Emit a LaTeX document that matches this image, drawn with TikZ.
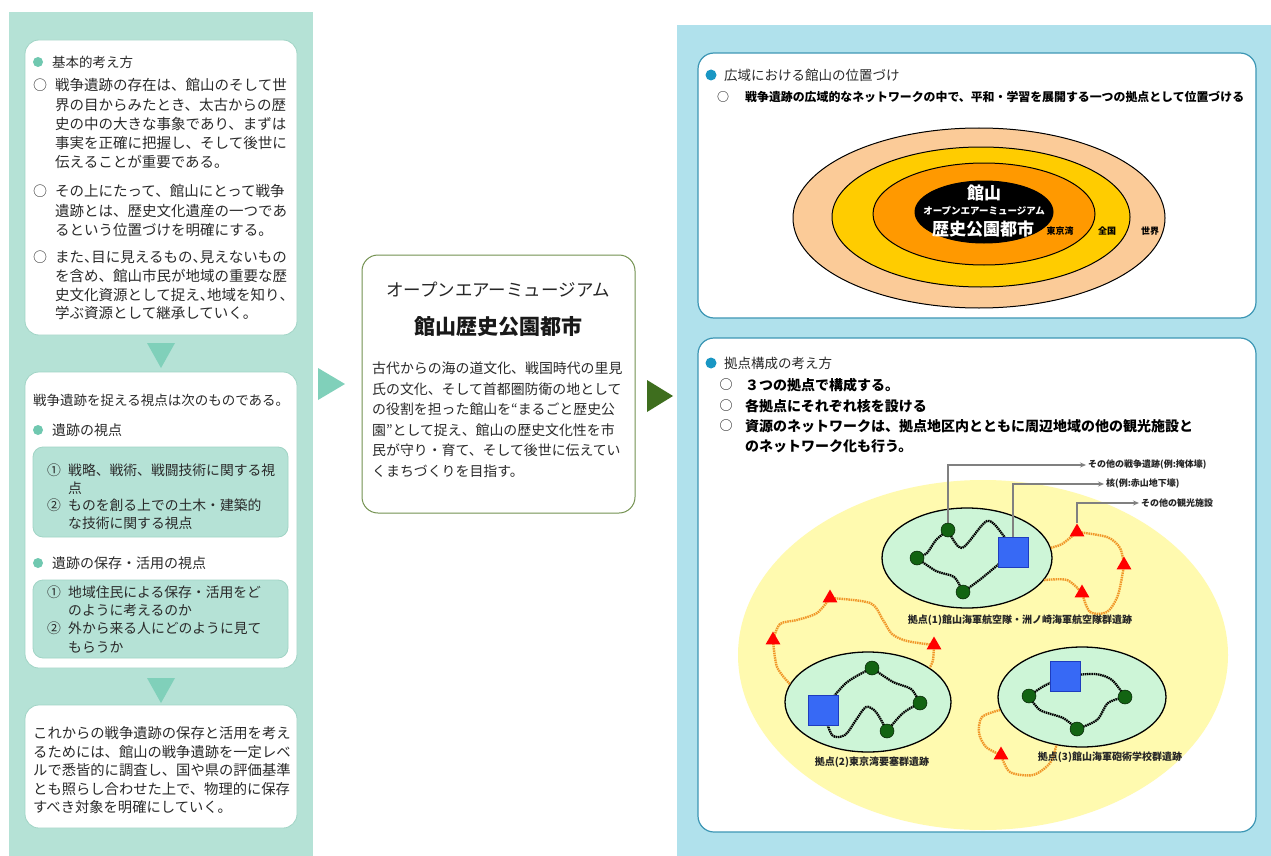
\documentclass[tikz,border=0pt]{standalone}
\usepackage{fontspec}
\setmainfont{Noto Sans CJK JP}
\usetikzlibrary{shapes.geometric,arrows.meta}
\pgfdeclarelayer{l0}\pgfdeclarelayer{l1}\pgfdeclarelayer{l2}
\pgfsetlayers{l0,l1,l2,main}
\newcommand\fs[2]{\fontsize{#1}{#2}\selectfont}
\newcommand\hc{\makebox[0.5em][l]{、}}
\definecolor{tealbg}{RGB}{181,226,214}
\definecolor{tealdk}{RGB}{112,200,176}
\definecolor{tealtri}{RGB}{128,208,186}
\definecolor{tealbd}{RGB}{160,212,197}
\definecolor{txt}{RGB}{42,42,42}
\definecolor{olive}{RGB}{115,145,80}
\definecolor{dkgreen}{RGB}{62,110,30}
\definecolor{bluebg}{RGB}{176,225,236}
\definecolor{bluebd}{RGB}{60,150,180}
\definecolor{bluedot}{RGB}{25,150,195}
\definecolor{peach}{RGB}{251,203,152}
\definecolor{gold}{RGB}{255,204,0}
\definecolor{orng}{RGB}{255,153,0}
\definecolor{paley}{RGB}{255,250,175}
\definecolor{mint}{RGB}{205,245,215}
\definecolor{sqblue}{RGB}{55,105,245}
\definecolor{sqedge}{RGB}{30,60,190}
\definecolor{dotg}{RGB}{18,100,18}
\definecolor{orline}{RGB}{240,150,40}
\definecolor{grayln}{RGB}{128,128,128}
\begin{document}
\begin{tikzpicture}[x=1pt,y=-1pt,
  wbox/.style={rectangle, rounded corners=14pt, fill=white, draw=tealbd, line width=0.8pt, inner sep=0},
  ibox/.style={rectangle, rounded corners=10pt, fill=tealbg, draw=tealbd, line width=0.8pt, inner sep=0},
  mbox/.style={rectangle, rounded corners=16pt, fill=white, draw=olive, line width=1pt, inner sep=0},
  rbox/.style={rectangle, rounded corners=16pt, fill=white, draw=bluebd, line width=1.2pt, inner sep=0},
  para/.style={anchor=north west, align=left, inner sep=0, text=txt},
  line/.style={anchor=west, inner sep=0, text=txt},
  ctr/.style={anchor=center, inner sep=0},
  tdot/.style={circle, fill=tealdk, minimum size=10pt, inner sep=0},
  bdot/.style={circle, fill=bluedot, minimum size=11pt, inner sep=0},
  zone/.style={ellipse, fill=mint, draw=black, line width=1.3pt, inner sep=0},
  gdot/.style={circle, fill=dotg, draw=black!70!dotg, line width=0.5pt, minimum size=14pt, inner sep=0},
  sq/.style={rectangle, fill=sqblue, draw=sqedge, line width=0.8pt, minimum size=30pt, inner sep=0},
  rtri/.style={regular polygon, regular polygon sides=3, minimum size=17pt, fill=red, inner sep=0},
  wave/.style={line width=2.3pt, black, dash pattern=on 1.5pt off 0.7pt},
  oline/.style={line width=2.4pt, orline, dash pattern=on 1.5pt off 0.8pt},
  gl/.style={draw=grayln, line width=1.6pt, -{Stealth[length=6pt,width=5pt]}},
  lab/.style={anchor=west, inner sep=2pt, text=black!85, font=\fs{9}{11}\bfseries},
  lab2/.style={anchor=center, inner sep=0, text=black!85, font=\fs{10}{12}\bfseries}
]
\useasboundingbox (0,0) rectangle (1271,856);
\begin{pgfonlayer}{l0}
\fill[white] (0,0) rectangle (1271,856);
% left panel
\fill[tealbg] (9,12) rectangle (313,856);
\node[wbox, minimum width=272pt, minimum height=295pt] (b1) at (161,187.5) {};
\fill[tealtri] (147,343) -- (175,343) -- (161,368) -- cycle;
\node[wbox, minimum width=272pt, minimum height=296pt] (b2) at (161,520) {};
\node[ibox, minimum width=255pt, minimum height=90pt] (ib1) at (160.5,492) {};
\node[ibox, minimum width=255pt, minimum height=78pt] (ib2) at (160.5,619) {};
\fill[tealtri] (147,678) -- (175,678) -- (161,703) -- cycle;
\node[wbox, minimum width=272pt, minimum height=123pt] (b3) at (161,766.5) {};
% middle
\fill[tealtri] (318,368) -- (318,400) -- (345,384) -- cycle;
\node[mbox, minimum width=273pt, minimum height=258pt] (mb) at (498.5,384) {};
\fill[dkgreen] (647,380) -- (647,412) -- (673,396) -- cycle;
% right panel
\fill[bluebg] (677,25) rectangle (1271,856);
\node[rbox, minimum width=558pt, minimum height=265pt] (rt) at (977,185.5) {};
\node[rbox, minimum width=558pt, minimum height=494pt] (rb) at (977,585) {};
% concentric ellipses
\draw[fill=peach, line width=1pt] (979,218) ellipse [x radius=186pt, y radius=90pt];
\draw[fill=gold, line width=1pt] (981,217) ellipse [x radius=149pt, y radius=70pt];
\draw[fill=orng, line width=1pt] (984,214) ellipse [x radius=111pt, y radius=51pt];
\draw[fill=black, line width=1pt] (984,212) ellipse [x radius=69pt, y radius=31pt];
\end{pgfonlayer}

% ---------- left panel texts
\node[tdot] (k1) at (38,62) {};
\node[line, font=\fs{13.5}{16}] (h1) at (52,62) {基本的考え方};
\node[ctr, text=txt, font=\fs{14}{16}] (c1) at (40,85) {○};
\node[para, font=\fs{14.5}{19.2}] (p1) at (55,78.4) {戦争遺跡の存在は、館山のそして世\\界の目からみたとき、太古からの歴\\史の中の大きな事象であり、まずは\\事実を正確に把握し、そして後世に\\伝えることが重要である。};
\node[ctr, text=txt, font=\fs{14}{16}] (c2) at (40,191) {○};
\node[para, font=\fs{14.5}{19.2}] (p2) at (55,184.4) {その上にたって、館山にとって戦争\\遺跡とは、歴史文化遺産の一つであ\\るという位置づけを明確にする。};
\node[ctr, text=txt, font=\fs{14}{16}] (c3) at (40,257) {○};
\node[para, font=\fs{14.5}{18.9}] (p3) at (55,250.4) {また\hc 目に見えるもの\hc 見えないもの\\を含め、館山市民が地域の重要な歴\\史文化資源として捉え\hc 地域を知り\hc\\学ぶ資源として継承していく。};

\node[line, font=\fs{13.5}{16}] (h2) at (33,400) {戦争遺跡を捉える視点は次のものである。};
\node[tdot] (k2) at (38,430) {};
\node[line, font=\fs{14}{16}] (h3) at (52,430) {遺跡の視点};
\node[line, font=\fs{13.8}{16}] (n1) at (47,470) {①};
\node[para, font=\fs{13.8}{17.7}] (q1) at (68,463.7) {戦略、戦術、戦闘技術に関する視\\点};
\node[line, font=\fs{13.8}{16}] (n2) at (47,505) {②};
\node[para, font=\fs{13.8}{17.7}] (q2) at (68,498.7) {ものを創る上での土木・建築的\\な技術に関する視点};
\node[tdot] (k3) at (38,563) {};
\node[line, font=\fs{14}{16}] (h4) at (52,563) {遺跡の保存・活用の視点};
\node[line, font=\fs{13.8}{16}] (n3) at (47,592) {①};
\node[para, font=\fs{13.8}{18}] (q3) at (68,585.7) {地域住民による保存・活用をど\\のように考えるのか};
\node[line, font=\fs{13.8}{16}] (n4) at (47,628) {②};
\node[para, font=\fs{13.8}{18.5}] (q4) at (68,621.7) {外から来る人にどのように見て\\もらうか};

\node[para, font=\fs{14.3}{18.5}] (p5) at (33,726.5) {これからの戦争遺跡の保存と活用を考え\\るためには、館山の戦争遺跡を一定レベ\\ルで悉皆的に調査し、国や県の評価基準\\とも照らし合わせた上で、物理的に保存\\すべき対象を明確にしていく。};

% ---------- middle texts
\node[ctr, text=black!85, font=\fs{17.5}{20}] (mt1) at (498,290) {オープンエアーミュージアム};
\node[ctr, text=black!90, font=\fs{21}{24}\bfseries] (mt2) at (498,327) {館山歴史公園都市};
\node[para, font=\fs{13.9}{20.6}] (mp) at (372,361.7) {古代からの海の道文化、戦国時代の里見\\氏の文化、そして首都圏防衛の地として\\の役割を担った館山を“まるごと歴史公\\園”として捉え、館山の歴史文化性を市\\民が守り・育て、そして後世に伝えてい\\くまちづくりを目指す。};

% ---------- right top texts
\node[bdot] (k4) at (711,75) {};
\node[line, font=\fs{13.5}{16}] (h5) at (724,75) {広域における館山の位置づけ};
\node[ctr, text=black, font=\fs{12}{14}] (c4) at (723,97) {○};
\node[line, text=black, font=\fs{11.9}{14}\bfseries] (r1) at (745,97) {戦争遺跡の広域的なネットワークの中で、平和・学習を展開する一つの拠点として位置づける};
\node[ctr, text=white, font=\fs{17}{20}\bfseries] (z1) at (984,193) {館山};
\node[ctr, text=white, font=\fs{9.5}{11}\bfseries] (z2) at (984,211) {オープンエアーミュージアム};
\node[ctr, text=white, font=\fs{17}{20}\bfseries] (z3) at (983,229) {歴史公園都市};
\node[ctr, text=black, font=\fs{9}{11}\bfseries] (z4) at (1060,231) {東京湾};
\node[ctr, text=black, font=\fs{9}{11}\bfseries] (z5) at (1107,231) {全国};
\node[ctr, text=black, font=\fs{9}{11}\bfseries] (z6) at (1150,231) {世界};

% ---------- right bottom texts
\node[bdot] (k5) at (711,363) {};
\node[line, font=\fs{13.5}{16}] (h6) at (724,363) {拠点構成の考え方};
\node[ctr, text=black, font=\fs{13}{15}] (c5) at (726,385) {○};
\node[line, text=black, font=\fs{14}{16}\bfseries] (s1) at (745,385) {３つの拠点で構成する。};
\node[ctr, text=black, font=\fs{13}{15}] (c6) at (726,406) {○};
\node[line, text=black, font=\fs{14}{16}\bfseries] (s2) at (745,406) {各拠点にそれぞれ核を設ける};
\node[ctr, text=black, font=\fs{13}{15}] (c7) at (726,426) {○};
\node[line, text=black, font=\fs{14}{16}\bfseries] (s3) at (745,426) {資源のネットワークは、拠点地区内とともに周辺地域の他の観光施設と};
\node[line, text=black, font=\fs{14}{16}\bfseries] (s4) at (745,446) {のネットワーク化も行う。};

% ---------- network
\begin{pgfonlayer}{l1}
\fill[paley] (983,655) ellipse [x radius=245pt, y radius=175pt];
\node[zone, minimum width=170pt, minimum height=100pt] (E1) at (967,558) {};
\node[zone, minimum width=166pt, minimum height=100pt] (E2) at (868,702) {};
\node[zone, minimum width=168pt, minimum height=100pt] (E3) at (1082,697) {};
\end{pgfonlayer}

\node[gdot] (d11) at (948,530) {};
\node[gdot] (d12) at (917,558) {};
\node[gdot] (d13) at (963,592) {};
\node[gdot] (d21) at (872,668) {};
\node[gdot] (d22) at (920,703) {};
\node[gdot] (d23) at (887,731) {};
\node[gdot] (d31) at (1029,696) {};
\node[gdot] (d32) at (1125,697) {};
\node[gdot] (d33) at (1077,729) {};
\node[sq] (S1) at (1013,552) {};
\node[sq] (S2) at (823,710) {};
\node[sq] (S3) at (1065,676) {};
\node[rtri] (T1) at (1077,532) {};
\node[rtri] (T2) at (1124,565) {};
\node[rtri] (T3) at (1082,593) {};
\node[rtri] (T4) at (773,640) {};
\node[rtri] (T5) at (830,598) {};
\node[rtri] (T6) at (934,645) {};
\node[rtri] (T7) at (1001,755) {};

\node[lab] (L1) at (1086,465) {その他の戦争遺跡(例:掩体壕)};
\node[lab] (L2) at (1104,484) {核(例:赤山地下壕)};
\node[lab] (L3) at (1139,503) {その他の観光施設};
\node[lab2] (N1) at (1020,620) {拠点(1)館山海軍航空隊・洲ノ崎海軍航空隊群遺跡};
\node[lab2] (N2) at (872,762) {拠点(2)東京湾要塞群遺跡};
\node[lab2] (N3) at (1110,757) {拠点(3)館山海軍砲術学校群遺跡};

\begin{pgfonlayer}{l2}
% waves inside E1
\draw[wave] plot[smooth] coordinates {(d11) (962,548) (987,521) (1003,535) (S1)};
\draw[wave] plot[smooth] coordinates {(d11) (936,540) (927,553) (d12)};
\draw[wave] plot[smooth] coordinates {(d12) (936,571) (954,577) (d13)};
\draw[wave] plot[smooth] coordinates {(d13) (982,578) (S1)};
% waves inside E2
\draw[wave] plot[smooth] coordinates {(S2) (846,683) (d21)};
\draw[wave] plot[smooth] coordinates {(d21) (893,682) (911,689) (d22)};
\draw[wave] plot[smooth] coordinates {(d22) (903,713) (d23)};
\draw[wave] plot[smooth] coordinates {(d23) (876,712) (866,707) (856,720) (845,735) (832,735) (S2)};
% waves inside E3
\draw[wave] plot[smooth] coordinates {(S3) (1044,686) (d31)};
\draw[wave] plot[smooth] coordinates {(d31) (1040,710) (1063,718) (d33)};
\draw[wave] plot[smooth] coordinates {(d33) (1097,720) (1108,703) (d32)};
\draw[wave] plot[smooth] coordinates {(d32) (1112,680) (1095,674) (S3)};
% orange resource network
\draw[oline] plot[smooth] coordinates {(E1.7) (1062,544) (T1)};
\draw[oline] plot[smooth] coordinates {(T1) (1107,537) (1120,548) (T2)};
\draw[oline] plot[smooth] coordinates {(E1.-16) (1067,580) (T3)};
\draw[oline] plot[smooth] coordinates {(T3) (1090,612) (1107,612) (1118,595) (T2)};
\draw[oline] plot[smooth] coordinates {(E2.167) (777,667) (T4)};
\draw[oline] plot[smooth] coordinates {(T4) (780,624) (797,620) (817,613) (T5)};
\draw[oline] plot[smooth] coordinates {(T5) (870,603) (883,620) (892,634) (907,641) (T6)};
\draw[oline] plot[smooth] coordinates {(T6) (933,660) (E2.29)};
\draw[oline] plot[smooth] coordinates {(E3.189) (982,717) (979,733) (986,747) (T7)};
\draw[oline] plot[smooth] coordinates {(T7) (1010,772) (1033,775) (1050,763) (E3.242)};
% gray callouts
\draw[gl] (d11.north) |- (L1.west);
\draw[gl] (S1.north) |- (L2.west);
\draw[gl] (T1.north) |- (L3.west);
\end{pgfonlayer}
\end{tikzpicture}
\end{document}
